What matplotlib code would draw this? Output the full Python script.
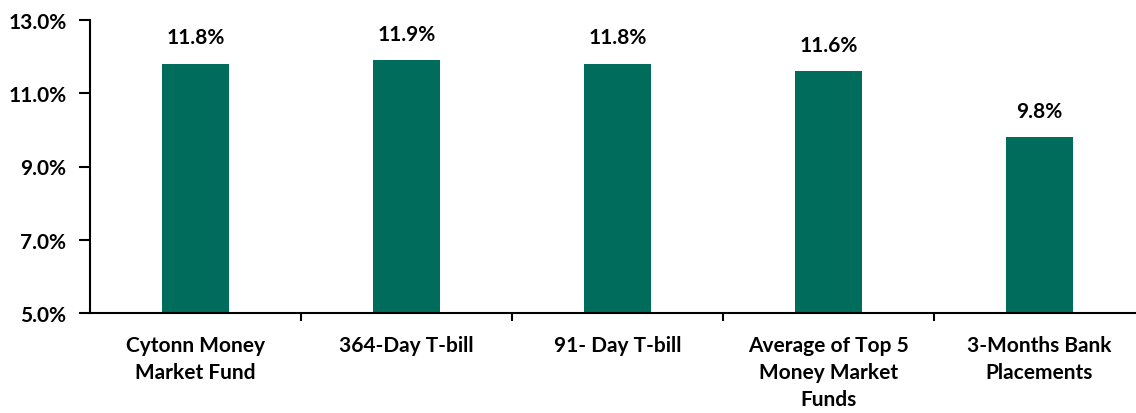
import matplotlib.pyplot as plt
import numpy as np

plt.rcParams['font.family'] = ['Lato', 'DejaVu Sans']
plt.rcParams['font.weight'] = 'bold'

categories = ["Cytonn Money\nMarket Fund", "364-Day T-bill", "91- Day T-bill",
              "Average of Top 5\nMoney Market\nFunds", "3-Months Bank\nPlacements"]
rates = [11.8, 11.9, 11.8, 11.6, 9.8]
yticks = [5, 7, 9, 11, 13]

fig = plt.figure(figsize=(11.36, 4.14), dpi=100)
ax = fig.add_axes([90 / 1136, 1 - 314 / 414, 1055 / 1136, 293 / 414])

x = np.arange(len(categories))
bars = ax.bar(x, rates, width=0.315, color='#006C5B', zorder=2)
for b, v in zip(bars, rates):
    ax.annotate(f"{v:.1f}%", (b.get_x() + b.get_width() / 2, v),
                xytext=(0, 12), textcoords='offset points',
                ha='center', va='bottom', fontsize=15, fontweight='bold')

ax.set_xlim(-0.5, len(categories) - 0.5)
ax.set_ylim(5, 13)
ax.set_yticks(yticks)
ax.set_yticklabels([f"{t:.1f}%" for t in yticks], fontsize=15, fontweight='bold')
ax.set_xticks(x)
ax.set_xticklabels(categories, fontsize=15, fontweight='bold', linespacing=1.42)
ax.set_xticks(np.arange(0.5, len(categories) - 0.5), minor=True)
ax.tick_params(axis='x', which='major', length=0, pad=16)
ax.tick_params(axis='x', which='minor', length=6, width=1.5, direction='out')
ax.tick_params(axis='y', length=8, width=1.5, direction='out', pad=9)

for s in ['top', 'right']:
    ax.spines[s].set_visible(False)
for s in ['left', 'bottom']:
    ax.spines[s].set_linewidth(1.5)

fig.savefig('out.png', dpi=100)
